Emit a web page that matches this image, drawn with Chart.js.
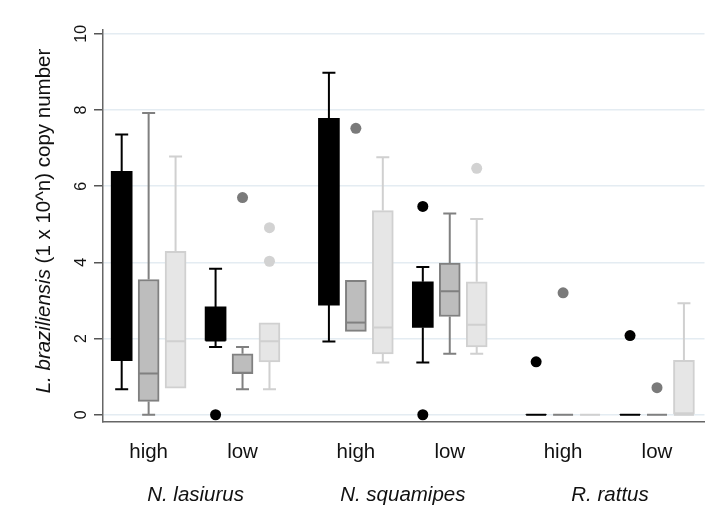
<!DOCTYPE html>
<html>
<head>
<meta charset="utf-8">
<script src="https://cdn.jsdelivr.net/npm/chart.js@4"></script>
<style>
  html, body { margin: 0; padding: 0; background: #fff; }
</style>
</head>
<body>
<canvas id="chart" width="710" height="521"></canvas>
<script>
const SPECIES = ['N. lasiurus', 'N. squamipes', 'R. rattus'];
const LEVELS = ['high', 'low'];
const Y_TICKS = [0, 2, 4, 6, 8, 10];

// one entry per group: N.l. high, N.l. low, N.s. high, N.s. low, R.r. high, R.r. low
// [lower whisker, q1, median, q3, upper whisker]
const darkBoxes = [
    [0.67, 1.42, 3.47, 6.39, 7.36],
    [1.78, 1.95, 1.95, 2.83, 3.83],
    [1.92, 2.88, 3.50, 7.78, 8.98],
    [1.37, 2.29, 2.90, 3.49, 3.88],
    [0, 0, 0, 0, 0],
    [0, 0, 0, 0, 0]
];
const midBoxes = [
    [0.00, 0.35, 1.08, 3.55, 7.92],
    [0.67, 1.08, 1.10, 1.60, 1.78],
    [2.19, 2.19, 2.42, 3.53, 3.53],
    [1.60, 2.58, 3.24, 3.98, 5.28],
    [0, 0, 0, 0, 0],
    [0, 0, 0, 0, 0]
];
const lightBoxes = [
    [0.70, 0.70, 1.93, 4.29, 6.78],
    [0.67, 1.39, 1.93, 2.41, 2.41],
    [1.37, 1.60, 2.29, 5.36, 6.76],
    [1.60, 1.78, 2.36, 3.49, 5.14],
    [0, 0, 0, 0, 0],
    [0, 0, 0, 0, 0.00],
];
lightBoxes[5] = [0, 0, 0, 1.43, 2.93];

// outside values: [group index, value]
const darkOutliers = [[1, 0], [3, 5.47], [3, 0], [4, 1.39], [5, 2.08]];
const midOutliers = [[1, 5.70], [2, 7.52], [4, 3.20], [5, 0.71]];
const lightOutliers = [[1, 4.91], [1, 4.03], [3, 6.47]];

// look of the three series
const series = [
    {boxes: darkBoxes, outliers: darkOutliers, fill: '#000000', line: '#000000', dot: '#000000', border: 0},
    {boxes: midBoxes, outliers: midOutliers, fill: '#bdbdbd', line: '#808080', dot: '#7a7a7a', border: 2},
    {boxes: lightBoxes, outliers: lightOutliers, fill: '#e6e6e6', line: '#d0d0d0', dot: '#d2d2d2', border: 2}
];

const SPECIES_STEP = 2.207;   // distance between species, in units of high/low distance
const SERIES_STEP = 0.287;    // distance between boxes inside a group
const BOX_WIDTH = 21;
const CAP_HALF = 6.5;
const FONT = '"Liberation Sans", Arial, sans-serif';

function groupPos(gi) {
    return Math.floor(gi / 2) * SPECIES_STEP + (gi % 2);
}

function boxPos(gi, si) {
    return groupPos(gi) + (si - 1) * SERIES_STEP;
}

const datasets = [];
series.forEach((s, si) => {
    datasets.push({
        type: 'bar',
        data: s.boxes.map((b, gi) => ({x: boxPos(gi, si), y: [b[1], b[3]]})),
        backgroundColor: s.fill,
        borderColor: s.line,
        borderWidth: s.border,
        borderSkipped: false,
        barThickness: BOX_WIDTH,
        grouped: false,
        order: 2
    });
});
series.forEach((s, si) => {
    datasets.push({
        type: 'scatter',
        data: s.outliers.map(o => ({x: boxPos(o[0], si), y: o[1]})),
        backgroundColor: s.dot,
        borderWidth: 0,
        pointRadius: 5.5,
        order: 1
    });
});

// whiskers and medians, placed with the chart's own scales
const boxExtras = {
    id: 'boxExtras',
    afterDatasetsDraw(chart) {
        const {ctx, scales: {x, y}} = chart;
        ctx.save();
        series.forEach((s, si) => {
            ctx.strokeStyle = s.line;
            ctx.lineWidth = 2;
            s.boxes.forEach((b, gi) => {
                const cx = x.getPixelForValue(boxPos(gi, si));
                const [lo, q1, med, q3, hi] = b.map(v => y.getPixelForValue(v));
                ctx.beginPath();
                if (b[4] > b[3]) {
                    ctx.moveTo(cx, q3); ctx.lineTo(cx, hi);
                    ctx.moveTo(cx - CAP_HALF, hi); ctx.lineTo(cx + CAP_HALF, hi);
                }
                if (b[0] < b[1]) {
                    ctx.moveTo(cx, q1); ctx.lineTo(cx, lo);
                    ctx.moveTo(cx - CAP_HALF, lo); ctx.lineTo(cx + CAP_HALF, lo);
                }
                ctx.moveTo(cx - BOX_WIDTH / 2 + 0.5, med);
                ctx.lineTo(cx + BOX_WIDTH / 2 - 0.5, med);
                ctx.stroke();
            });
        });
        ctx.restore();
    }
};

// axis texts: rotated y ticks, mixed-style y title, group and species labels
const axisTexts = {
    id: 'axisTexts',
    afterDraw(chart) {
        const {ctx, scales: {x, y}} = chart;
        ctx.save();
        ctx.fillStyle = '#111';
        ctx.textBaseline = 'middle';
        ctx.textAlign = 'center';

        ctx.font = '16px ' + FONT;
        Y_TICKS.forEach(v => {
            ctx.save();
            ctx.translate(82, y.getPixelForValue(v));
            ctx.rotate(-Math.PI / 2);
            ctx.fillText(String(v), 0, 0);
            ctx.restore();
        });

        ctx.save();
        ctx.translate(44, 221);
        ctx.rotate(-Math.PI / 2);
        const part1 = 'L. braziliensis';
        const part2 = ' (1 x 10^n) copy number';
        ctx.font = 'italic 20.5px ' + FONT;
        const w1 = ctx.measureText(part1).width;
        ctx.font = '20.5px ' + FONT;
        const w2 = ctx.measureText(part2).width;
        ctx.textAlign = 'left';
        ctx.font = 'italic 20.5px ' + FONT;
        ctx.fillText(part1, -(w1 + w2) / 2, 0);
        ctx.font = '20.5px ' + FONT;
        ctx.fillText(part2, -(w1 + w2) / 2 + w1, 0);
        ctx.restore();

        ctx.textAlign = 'center';
        ctx.font = '20.5px ' + FONT;
        for (let gi = 0; gi < SPECIES.length * LEVELS.length; gi++) {
            ctx.fillText(LEVELS[gi % 2], x.getPixelForValue(groupPos(gi)), 452);
        }
        ctx.font = 'italic 20.5px ' + FONT;
        SPECIES.forEach((name, i) => {
            const mid = (groupPos(i * 2) + groupPos(i * 2 + 1)) / 2;
            ctx.fillText(name, x.getPixelForValue(mid), 495);
        });
        ctx.restore();
    }
};

new Chart(document.getElementById('chart'), {
    type: 'bar',
    data: {datasets: datasets},
    plugins: [boxExtras, axisTexts],
    options: {
        responsive: false,
        animation: false,
        layout: {padding: {top: 30, right: 5, left: 0, bottom: 0}},
        plugins: {legend: {display: false}, tooltip: {enabled: false}},
        scales: {
            x: {
                type: 'linear',
                min: -0.486,
                max: 5.92,
                offset: false,
                grid: {display: false},
                ticks: {display: false},
                border: {display: true, color: '#666', width: 1.5},
                afterFit: scale => { scale.height = 99; }
            },
            y: {
                min: -0.19,
                max: 10.1,
                afterBuildTicks: scale => { scale.ticks = Y_TICKS.map(v => ({value: v})); },
                ticks: {display: false},
                grid: {color: '#e4ecf2', lineWidth: 1.5, tickColor: '#555', tickLength: 9},
                border: {display: true, color: '#666', width: 1.5},
                afterFit: scale => { scale.width = 103; }
            }
        }
    }
});
</script>
</body>
</html>
